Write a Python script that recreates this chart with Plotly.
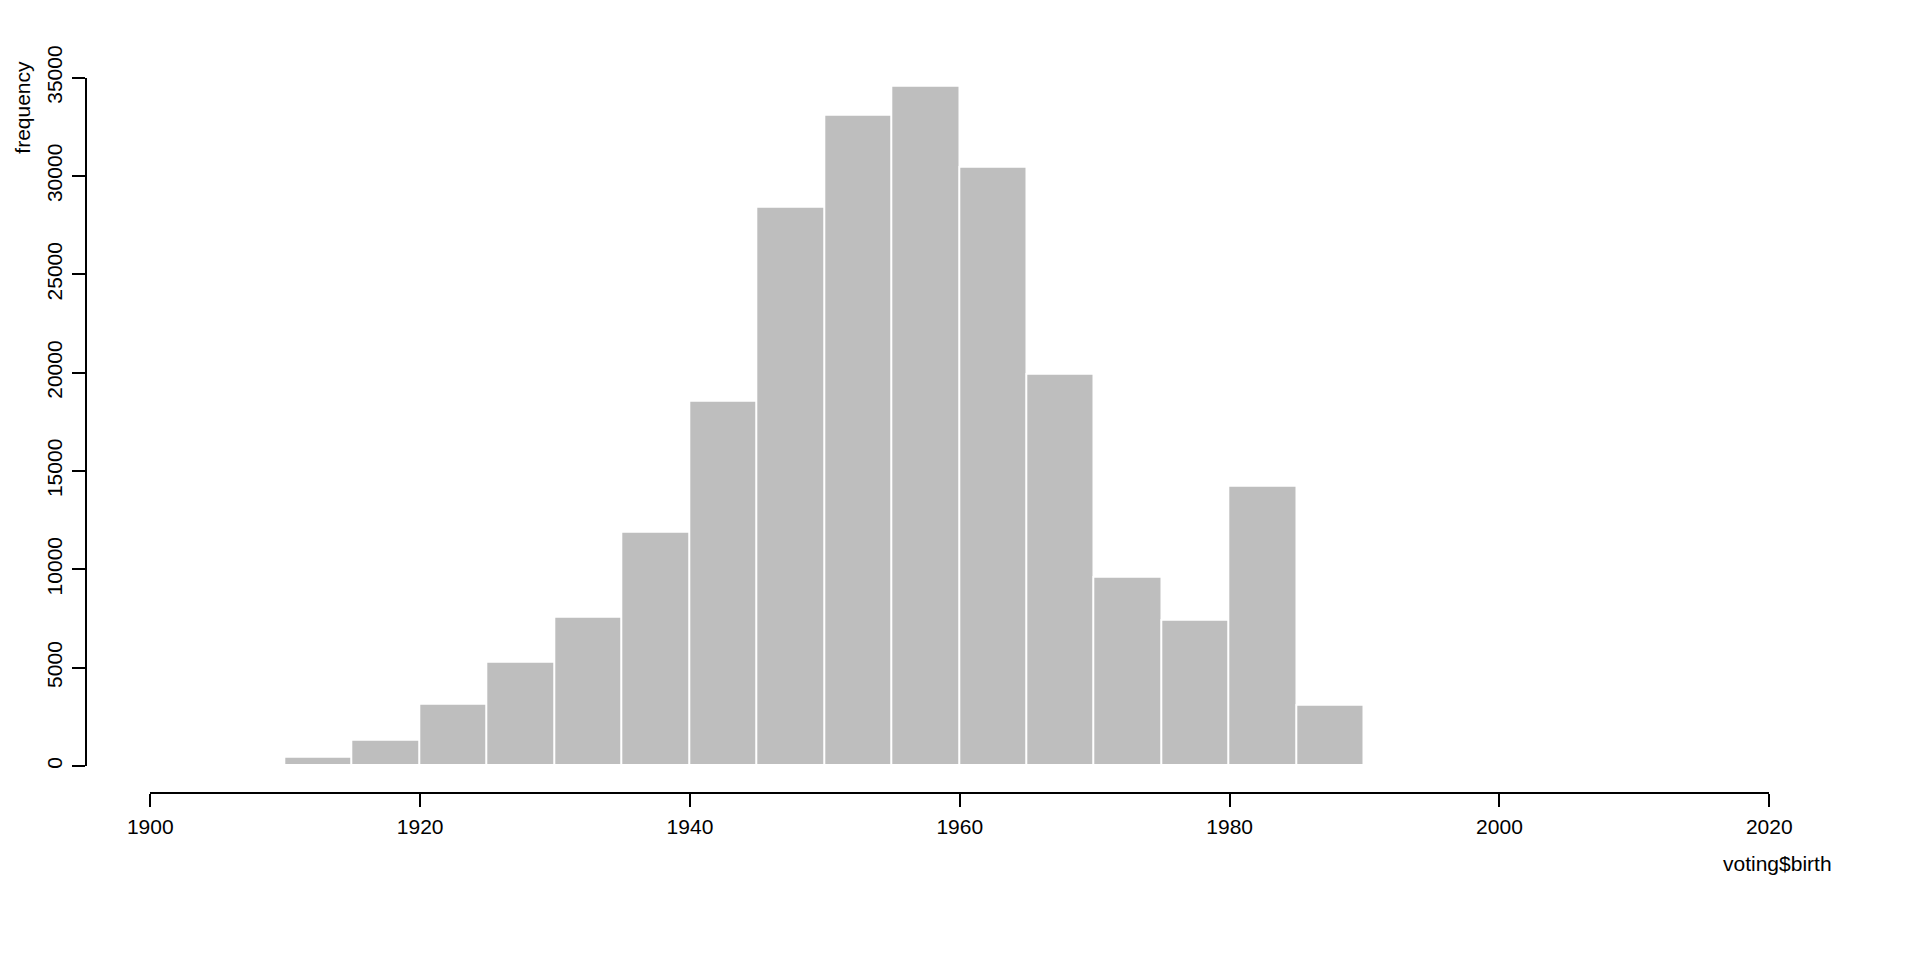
import plotly.graph_objects as go

# Histogram bins (birth year, 5-year bins) and counts
bin_start = [1910, 1915, 1920, 1925, 1930, 1935, 1940, 1945, 1950, 1955,
             1960, 1965, 1970, 1975, 1980, 1985]
bin_width = 5
counts = [400, 1300, 3100, 5250, 7550, 11850, 18550, 28400, 33050, 34550,
          30400, 19900, 9600, 7400, 14200, 3050]

x_ticks = [1900, 1920, 1940, 1960, 1980, 2000, 2020]
y_ticks = [0, 5000, 10000, 15000, 20000, 25000, 30000, 35000]

# page has an 8px body margin, so the figure is drawn 8px smaller/offset
OFF = 8
W, H = 1920 - 2 * OFF, 960 - 2 * OFF
FONT = "Liberation Sans, Arial, Helvetica, sans-serif"
FS = 21

centers = [b + bin_width / 2 for b in bin_start]

fig = go.Figure(go.Bar(
    x=centers, y=counts, width=[bin_width] * len(counts),
    marker=dict(color="#BEBEBE", line=dict(color="white", width=1.8)),
    hoverinfo="x+y",
))

px_x1900, px_x2020 = 150.3, 1769.3
px_y0, px_y35k = 766.0, 77.7
px_xaxis, px_yaxis = 793.0, 86.0

def fx(p):
    return (p - OFF) / W

def fy(p):
    return (H - (p - OFF)) / H

fig.update_layout(
    width=W, height=H,
    margin=dict(l=0, r=0, t=0, b=0, autoexpand=False),
    paper_bgcolor="white", plot_bgcolor="white",
    showlegend=False, bargap=0,
    font=dict(family=FONT, size=FS, color="black"),
    xaxis=dict(
        domain=[fx(px_x1900), fx(px_x2020)], range=[1900, 2020],
        anchor="free", position=fy(px_xaxis),
        tickvals=x_ticks, tickformat="d", ticks="outside", ticklen=13,
        tickwidth=1.6, tickcolor="black", showline=True, linecolor="black",
        linewidth=1.6, showgrid=False, zeroline=False, automargin=False,
        tickfont=dict(size=FS), ticklabelstandoff=2,
    ),
    yaxis=dict(
        domain=[fy(px_y0), fy(px_y35k)], range=[0, 35000],
        anchor="free", position=fx(px_yaxis),
        tickvals=y_ticks, tickformat="d", ticks="outside", ticklen=13,
        tickwidth=1.6, tickcolor="black", showline=True, linecolor="black",
        linewidth=1.6, showgrid=False, zeroline=False, automargin=False,
        tickangle=-90, tickfont=dict(size=FS), ticklabelstandoff=2,
    ),
    annotations=[
        dict(text="voting$birth", xref="paper", yref="paper",
             x=fx(1777.5), y=fy(863), showarrow=False,
             xanchor="center", yanchor="middle", font=dict(size=FS)),
        dict(text="frequency", xref="paper", yref="paper",
             x=fx(21.7), y=fy(107), showarrow=False, textangle=-90,
             xanchor="center", yanchor="middle", font=dict(size=FS)),
    ],
)

fig.write_html("out.html")
